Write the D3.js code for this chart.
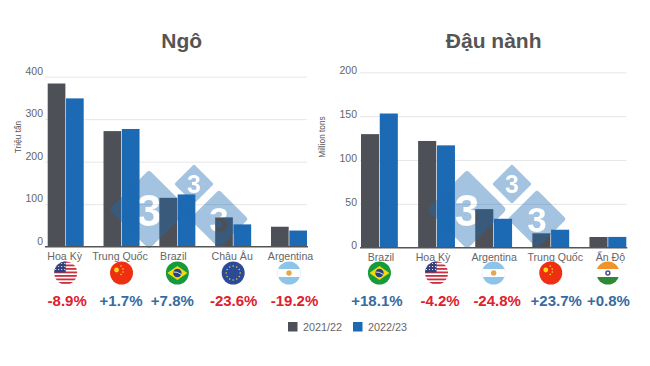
<!DOCTYPE html>
<html>
<head>
<meta charset="utf-8">
<script src="https://cdn.jsdelivr.net/npm/d3@7"></script>
<style>
    html, body { margin: 0; background: #fff; }
    svg { display: block; font-family: "Liberation Sans", Arial, sans-serif; }
    .domain { display: none; }
</style>
</head>
<body>
<svg id="chart" width="650" height="366"></svg>
<script>
const seasons = ["2021/22", "2022/23"];
const seasonColors = ["#4d5057", "#1c69b4"];

const cornCategories = ["Hoa Kỳ", "Trung Quốc", "Brazil", "Châu Âu", "Argentina"];
const corn2122 = [384, 272, 115, 69, 47];
const corn2223 = [349, 277, 123, 52.5, 38];
const cornChanges = ["-8.9%", "+1.7%", "+7.8%", "-23.6%", "-19.2%"];
const cornFlags = ["us", "cn", "br", "eu", "ar"];
const cornTicks = [0, 100, 200, 300, 400];

const soyCategories = ["Brazil", "Hoa Kỳ", "Argentina", "Trung Quốc", "Ấn Độ"];
const soy2122 = [129.5, 121.7, 44, 16.4, 12.2];
const soy2223 = [153, 116.7, 33, 20.5, 12.3];
const soyChanges = ["+18.1%", "-4.2%", "-24.8%", "+23.7%", "+0.8%"];
const soyFlags = ["br", "us", "ar", "cn", "in"];
const soyTicks = [0, 50, 100, 150, 200];

const svg = d3.select("#chart");
const defs = svg.append("defs");

const FLAG_R = 11.5;
const FLAG_Y = 273;

// each flag is drawn in a box around 0,0 and clipped to a circle
const flagPainters = {
    us: g => {
        d3.range(7).forEach(i => rect(g, -12, -12 + i * 3.5, 24, 1.8, "#c8313e"));
        rect(g, -12, -12, 12, 11.5, "#33427e");
        d3.range(12).forEach(i => dot(g, -10 + (i % 4) * 3, -9.5 + Math.floor(i / 4) * 3, .6, "#fff"));
    },
    cn: g => {
        rect(g, -12, -12, 24, 24, "#ee2f12");
        dot(g, -5, -3, 2.4, "#fbd716");
        [[-.5, -7], [1.5, -4], [1.5, -1], [-.5, 1.5]].forEach(p => dot(g, p[0], p[1], .8, "#fbd716"));
    },
    br: g => {
        rect(g, -12, -12, 24, 24, "#159a3c");
        g.append("path").attr("d", "M-10,0L0,-7L10,0L0,7Z").attr("fill", "#f5d90f");
        dot(g, 0, 0, 4.2, "#27427f");
        g.append("path").attr("d", "M-4,-1Q0,-1.5 4,1.5").attr("fill", "none").attr("stroke", "#fff").attr("stroke-width", .8);
    },
    eu: g => {
        rect(g, -12, -12, 24, 24, "#2b4a97");
        d3.range(12).forEach(i => {
            let a = i / 12 * 2 * Math.PI;
            dot(g, 7 * Math.cos(a), 7 * Math.sin(a), .8, "#e8cf2c");
        });
    },
    ar: g => {
        rect(g, -12, -12, 24, 24, "#8cc4ea");
        rect(g, -12, -4, 24, 8, "#fff");
        dot(g, 0, 0, 2.7, "#e3a94c");
    },
    in: g => {
        rect(g, -12, -12, 24, 24, "#fff");
        rect(g, -12, -12, 24, 8, "#f0932b");
        rect(g, -12, 4, 24, 8, "#2c8a35");
        dot(g, 0, 0, 2.7, "#4a4f8f");
        dot(g, 0, 0, 1.2, "#fff");
    }
};

function rect(g, x, y, w, h, fill) {
    g.append("rect").attr("x", x).attr("y", y).attr("width", w).attr("height", h).attr("fill", fill);
}

function dot(g, x, y, r, fill) {
    g.append("circle").attr("cx", x).attr("cy", y).attr("r", r).attr("fill", fill);
}

defs.append("clipPath").attr("id", "flag-clip")
    .append("circle").attr("r", FLAG_R);

function appendWatermark(id, x) {
    const marks = [
        {cx: x, cy: 209.5, half: 38, size: 45},
        {cx: x + 45, cy: 184, half: 19, size: 25},
        {cx: x + 70, cy: 219, half: 28, size: 35}
    ];
    const diamond = (sel, fill) => sel.append("rect")
        .attr("x", d => -d.half * .74)
        .attr("y", d => -d.half * .74)
        .attr("width", d => d.half * 1.48)
        .attr("height", d => d.half * 1.48)
        .attr("rx", d => d.half * .1)
        .attr("transform", d => `translate(${d.cx},${d.cy}) rotate(45)`)
        .attr("fill", fill);

    // the digit is a hole, so bars keep their own colour inside it
    const mask = defs.append("mask").attr("id", id)
        .attr("maskUnits", "userSpaceOnUse")
        .attr("x", 0).attr("y", 0).attr("width", 650).attr("height", 366);
    diamond(mask.selectAll(".m").data(marks).enter().append("g"), "#fff");
    mask.selectAll("text").data(marks).enter().append("text")
        .text("3")
        .attr("x", d => d.cx)
        .attr("y", d => d.cy + d.size * .36)
        .attr("text-anchor", "middle")
        .attr("font-weight", "bold")
        .attr("font-size", d => d.size)
        .attr("fill", "#000");

    svg.append("rect")
        .attr("width", 650).attr("height", 366)
        .attr("fill", "rgb(30,107,179)")
        .attr("opacity", .4)
        .attr("mask", `url(#${id})`);
}

function drawPanel(p) {
    const y = d3.scaleLinear().domain([0, p.ticks[p.ticks.length - 1]]).range([p.y0, p.yTop]);

    const x = d3.scaleBand().domain(p.categories).range(p.barRange).paddingInner(.355).paddingOuter(0);
    const xSeries = d3.scaleBand().domain(seasons).range([0, x.bandwidth()]).paddingInner(.035);

    svg.append("text")
        .text(p.title)
        .attr("x", p.titleX)
        .attr("y", 48)
        .attr("text-anchor", "middle")
        .attr("font-weight", "bold")
        .attr("font-size", 21)
        .attr("fill", "#555");

    svg.append("text")
        .text(p.unit)
        .attr("transform", `translate(${p.unitX},${p.unitY}) rotate(-90)`)
        .attr("text-anchor", "middle")
        .attr("font-size", 8.3)
        .attr("fill", "#555");

    let yAxis = svg.append("g")
        .attr("transform", `translate(${p.gridRange[0]},0)`)
        .call(d3.axisLeft(y).tickValues(p.ticks).tickSize(-(p.gridRange[1] - p.gridRange[0])).tickPadding(p.tickPadding));
    yAxis.selectAll("line").attr("stroke", d => d === 0 ? "none" : "#e6e6e6");
    yAxis.selectAll("text")
        .attr("dy", p.tickDy)
        .attr("font-family", "inherit")
        .attr("font-size", 10.5)
        .attr("fill", "#666");

    seasons.forEach((season, s) => {
        svg.append("g").selectAll("rect")
            .data(p.series[s])
            .enter()
            .append("rect")
            .attr("x", (d, i) => x(p.categories[i]) + xSeries(season))
            .attr("y", d => y(d))
            .attr("width", xSeries.bandwidth())
            .attr("height", d => y(0) - y(d))
            .attr("fill", seasonColors[s]);
    });

    appendWatermark(p.maskId, p.watermarkX);

    svg.append("line")
        .attr("x1", p.gridRange[0]).attr("x2", p.gridRange[1] + 1)
        .attr("y1", y(0)).attr("y2", y(0))
        .attr("stroke", "#555").attr("stroke-width", 1.5);

    let xAxis = svg.append("g")
        .attr("transform", `translate(0,${y(0)})`)
        .call(d3.axisBottom(x).tickSize(0).tickPadding(6));
    xAxis.selectAll("text")
        .attr("dx", (d, i) => p.labelNudge[i])
        .attr("font-family", "inherit")
        .attr("font-size", 10.6)
        .attr("fill", "#666");

    p.flags.forEach((flag, i) => {
        let g = svg.append("g")
            .attr("transform", `translate(${x(p.categories[i]) + x.bandwidth() / 2},${FLAG_Y})`)
            .append("g")
            .attr("clip-path", "url(#flag-clip)");
        flagPainters[flag](g);
    });

    svg.append("g").selectAll("text")
        .data(p.changes)
        .enter()
        .append("text")
        .text(d => d)
        .attr("x", (d, i) => x(p.categories[i]) + x.bandwidth() / 2 + p.changeNudge[i])
        .attr("y", 306)
        .attr("text-anchor", "middle")
        .attr("font-weight", "bold")
        .attr("font-size", 15)
        .attr("fill", d => d[0] === "-" ? "#e0202c" : "#376ba3");
}

drawPanel({
    title: "Ngô", titleX: 181.7,
    unit: "Triệu tấn", unitX: 21, unitY: 137,
    categories: cornCategories, series: [corn2122, corn2223],
    changes: cornChanges, flags: cornFlags, ticks: cornTicks,
    y0: 246.7, yTop: 76.7,
    barRange: [47.7, 307], gridRange: [45, 307],
    tickPadding: 2, tickDy: "-.22em",
    labelNudge: [-1, -1.5, -4, -1, 1.5],
    changeNudge: [1.5, -.5, -5, 0.5, 5.5],
    maskId: "wm-corn", watermarkX: 149
});

drawPanel({
    title: "Đậu nành", titleX: 493.7,
    unit: "Million tons", unitX: 325, unitY: 137,
    categories: soyCategories, series: [soy2122, soy2223],
    changes: soyChanges, flags: soyFlags, ticks: soyTicks,
    y0: 247.7, yTop: 72.3,
    barRange: [361, 626.3], gridRange: [360, 626.3],
    tickPadding: 3, tickDy: ".12em",
    labelNudge: [1.5, -3.5, .5, 4.5, 2.5],
    changeNudge: [-2.5, 3.5, 3.5, 5.5, .5],
    maskId: "wm-soy", watermarkX: 467
});

// legend
let legendX = d3.scalePoint().domain(seasons).range([288, 353]);
let legend = svg.append("g").selectAll("g")
    .data(seasons)
    .enter()
    .append("g")
    .attr("transform", d => `translate(${legendX(d)},322)`);
legend.append("rect")
    .attr("width", 9.5).attr("height", 9.5)
    .attr("fill", (d, i) => seasonColors[i]);
legend.append("text")
    .text(d => d)
    .attr("x", 15)
    .attr("y", 9)
    .attr("font-size", 10.8)
    .attr("fill", "#666");
</script>
</body>
</html>
